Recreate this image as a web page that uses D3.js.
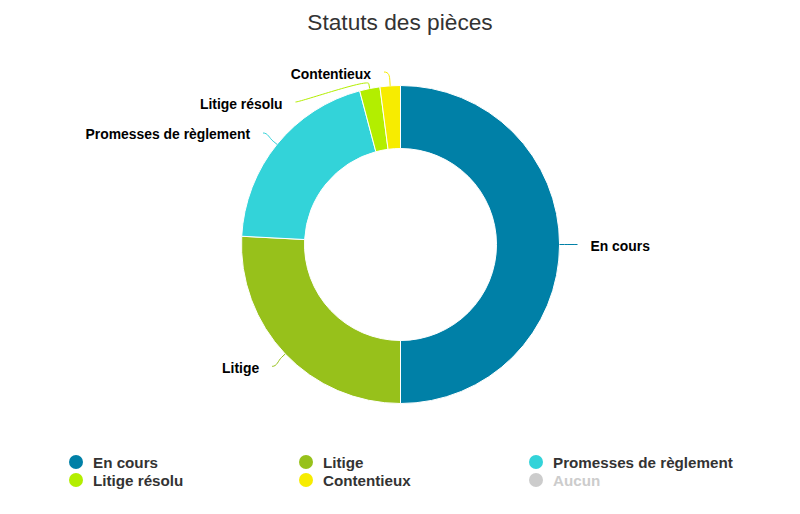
<!DOCTYPE html>
<html>
<head>
<meta charset="utf-8">
<script src="https://cdn.jsdelivr.net/npm/d3@7"></script>
<style>
  html, body { margin: 0; padding: 0; background: #fff; }
  svg { display: block; font-family: "Liberation Sans", Arial, sans-serif; }
</style>
</head>
<body>
<svg id="chart" width="800" height="514"></svg>
<script>
// ---- data ----
const title = "Statuts des pièces";
const categories = ["En cours", "Litige", "Promesses de règlement", "Litige résolu", "Contentieux", "Aucun"];
const values = [242, 125, 97, 10, 10, 0];
const colors = ["#0080a7", "#97c11b", "#33d3d9", "#b3ee00", "#f7ec00", "#cccccc"];

// ---- layout ----
const W = 800, H = 514;
const cx = 400.5, cy = 244.5;
const outerR = 159, innerR = 96;
const labelDist = 18;
const labelTop = 72;
const labelGap = 30;

const svg = d3.select("#chart");

svg.append("text")
  .attr("x", W / 2).attr("y", 30)
  .attr("text-anchor", "middle")
  .attr("font-size", 22.7)
  .attr("fill", "#333333")
  .text(title);

const data = categories.map((c, i) => ({ name: c, value: values[i], color: colors[i] }));

const pie = d3.pie().sort(null).value(d => d.value).startAngle(0).endAngle(2 * Math.PI);
const arcs = pie(data);
const arc = d3.arc().innerRadius(innerR).outerRadius(outerR);

const g = svg.append("g").attr("transform", `translate(${cx},${cy})`);
g.selectAll("path.slice")
  .data(arcs.filter(a => a.data.value > 0))
  .join("path")
  .attr("class", "slice")
  .attr("d", arc)
  .attr("fill", d => d.data.color)
  .attr("stroke", "#ffffff")
  .attr("stroke-width", 1)
  .attr("stroke-linejoin", "round");

// ---- data labels ----
const R = outerR + labelDist;
const labels = arcs.filter(a => a.data.value > 0).map(a => {
  const m = (a.startAngle + a.endAngle) / 2;
  const s = Math.sin(m), c = Math.cos(m);
  return {
    d: a.data,
    m, s, c,
    side: s >= 0 ? 1 : -1,
    nx: cx + R * s,
    ny: cy - R * c,
    tx: cx + outerR * s,
    ty: cy - outerR * c,
    bx: cx + (outerR + 5) * s,
    by: cy - (outerR + 5) * c
  };
});

[1, -1].forEach(side => {
  const list = labels.filter(l => l.side === side).sort((a, b) => a.ny - b.ny);
  let prev = -Infinity;
  list.forEach(l => {
    let y = Math.max(l.ny, labelTop, prev + labelGap);
    l.y = y;
    prev = y;
    if (Math.abs(l.c) > 0.99) {
      l.x = l.nx + side * 5;
    } else {
      const dy = y - cy;
      l.x = cx + side * Math.sqrt(Math.max(0, R * R - dy * dy));
    }
  });
});

const lg = svg.append("g");
labels.forEach(l => {
  const p = d3.path();
  p.moveTo(l.x, l.y);
  p.bezierCurveTo(l.x - l.side * 5, l.y, 2 * l.bx - l.tx, 2 * l.by - l.ty, l.bx, l.by);
  p.lineTo(l.tx, l.ty);
  lg.append("path")
    .attr("d", p.toString())
    .attr("fill", "none")
    .attr("stroke", l.d.color)
    .attr("stroke-width", 1);
  lg.append("text")
    .attr("x", l.x + l.side * 13)
    .attr("y", l.y + 6.5)
    .attr("text-anchor", l.side > 0 ? "start" : "end")
    .attr("font-size", 13.9)
    .attr("font-weight", "bold")
    .attr("fill", "#000000")
    .text(l.d.name);
});

// ---- legend ----
const legX0 = 76, legColW = 230, legY0 = 462, legRowH = 18;
const leg = svg.append("g");
data.forEach((d, i) => {
  const col = i % 3, row = Math.floor(i / 3);
  const x = legX0 + col * legColW, y = legY0 + row * legRowH;
  leg.append("circle")
    .attr("cx", x).attr("cy", y).attr("r", 7)
    .attr("fill", d.color);
  leg.append("text")
    .attr("x", x + 17).attr("y", y + 5.5)
    .attr("font-size", 15.2)
    .attr("font-weight", "bold")
    .attr("fill", d.value > 0 ? "#333333" : "#cccccc")
    .text(d.name);
});
</script>
</body>
</html>
